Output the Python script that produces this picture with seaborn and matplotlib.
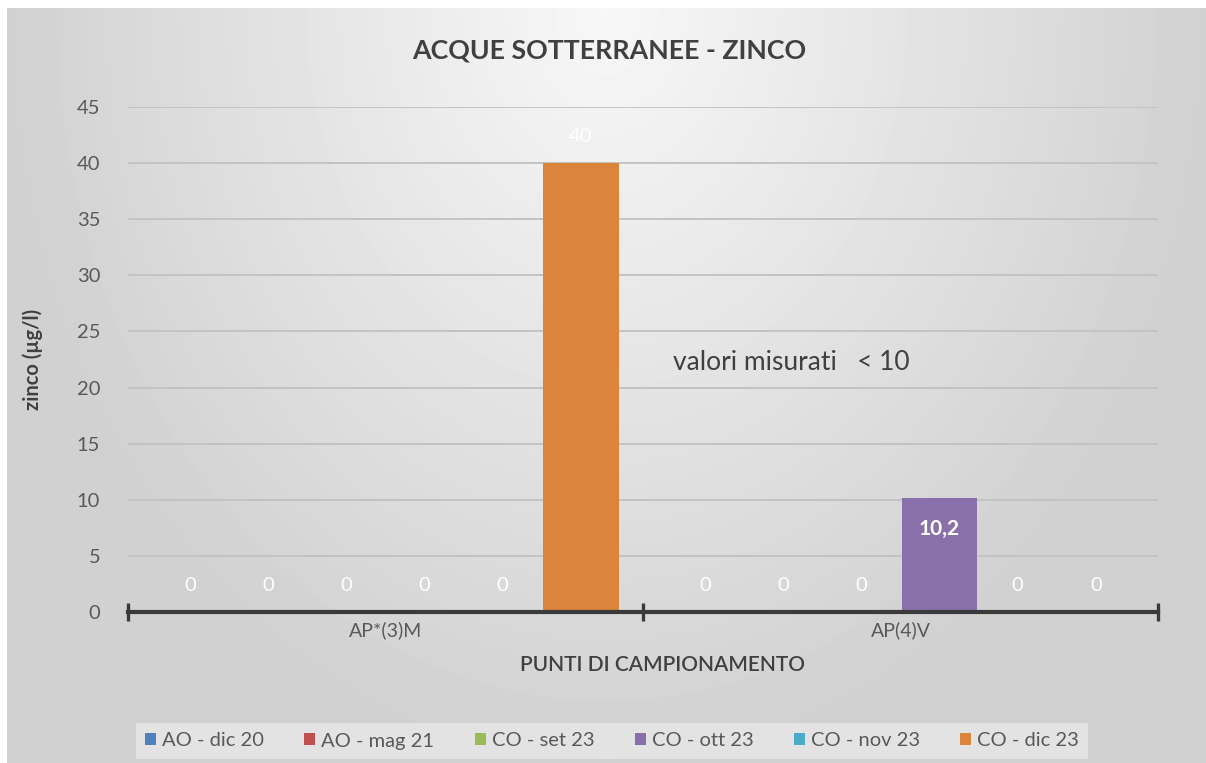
import numpy as np
import pandas as pd
import matplotlib
matplotlib.use("Agg")
import matplotlib.pyplot as plt
from matplotlib.patches import Patch
import seaborn as sns

# ---------------- data ----------------
categories = ["AP*(3)M", "AP(4)V"]
series = ["AO - dic 20", "AO - mag 21", "CO - set 23", "CO - ott 23", "CO - nov 23", "CO - dic 23"]
values_ap3m = [0, 0, 0, 0, 0, 40]
values_ap4v = [0, 0, 0, 10.2, 0, 0]
colors = ["#4f81bd", "#c0504d", "#9bbb59", "#8a70aa", "#4bacc6", "#db843c"]
yticks = [0, 5, 10, 15, 20, 25, 30, 35, 40, 45]
title = "ACQUE SOTTERRANEE - ZINCO"
ylabel = "zinco (µg/l)"
xlabel = "PUNTI DI CAMPIONAMENTO"
note = "valori misurati   < 10"

rows = []
for cat, vals in zip(categories, [values_ap3m, values_ap4v]):
    for s, v in zip(series, vals):
        rows.append({"punto": cat, "campagna": s, "valore": v})
df = pd.DataFrame(rows)

sns.set_theme(style="white")
plt.rcParams["font.family"] = ["Lato", "DejaVu Sans"]

W, H = 1206, 763
fig = plt.figure(figsize=(W / 100, H / 100), dpi=100)
fig.patch.set_facecolor("white")

# background gradient panel
bg = fig.add_axes([7 / W, 0, 1 - 7 / W, 1 - 8 / H], zorder=-10)
yy, xx = np.mgrid[0:1:200j, 0:1:300j]
dx = (xx - 0.5) / 0.5
r = np.sqrt(dx ** 2 + yy ** 2)
c = 0.97 - 0.15 * np.clip(r, 0, 1)
bg.imshow(c, cmap="gray", vmin=0, vmax=1, aspect="auto", interpolation="bilinear")
bg.axis("off")

# main axes
ax = fig.add_axes([128 / W, (H - 612) / H, (1158 - 128) / W, (612 - 107) / H])
ax.patch.set_alpha(0)

sns.barplot(data=df, x="punto", y="valore", hue="campagna", order=categories,
            hue_order=series, palette=colors, width=0.91, gap=0.03,
            saturation=1, ax=ax, legend=False, errorbar=None, linewidth=0)

ax.set_xlim(-0.5, 1.5)
ax.set_ylim(0, 45)
ax.set_yticks(yticks)
ax.yaxis.grid(True, color="#c3c3c3", lw=1.4)
ax.set_axisbelow(True)
for s in ["left", "right", "top"]:
    ax.spines[s].set_visible(False)
ax.spines["bottom"].set_color("#3a3a3a")
ax.spines["bottom"].set_linewidth(3)
ax.spines["bottom"].set_zorder(5)

ax.tick_params(axis="y", length=0, pad=20, labelsize=14.5, labelcolor="#595959")
ax.tick_params(axis="x", which="major", length=0, pad=7, labelsize=14, labelcolor="#595959")
ax.set_xticks([-0.5, 0.5, 1.5], minor=True)
ax.tick_params(axis="x", which="minor", bottom=True, length=13, width=2.4,
               direction="inout", color="#3a3a3a")

ax.set_xlabel(xlabel, fontsize=15, color="#404040", fontweight="semibold")
ax.xaxis.set_label_coords((662 - 128) / 1030, -(665 - 612) / 505)
ax.xaxis.label.set_verticalalignment("center")
ax.set_ylabel(ylabel, fontsize=14.5, color="#404040", fontweight="bold")
ax.yaxis.set_label_coords((33 - 128) / 1030, 0.5)
ax.yaxis.label.set_verticalalignment("center")

# data labels
for cont in ax.containers:
    for bar in cont:
        v = bar.get_height()
        xc = bar.get_x() + bar.get_width() / 2
        txt = f"{v:g}".replace(".", ",")
        if 0 < v < 20:
            ax.text(xc, v - 2.8, txt, ha="center", va="center", color="white",
                    fontsize=15, fontweight="bold")
        else:
            ax.text(xc, v + 2.4, txt, ha="center", va="center", color="white",
                    fontsize=14.5)

ax.text(0.558, 22.2, note, ha="left", va="center", fontsize=19, color="#404040")

fig.text(609 / W, 1 - 50 / H, title, ha="center", va="center", fontsize=19.3,
         fontweight="bold", color="#404040")

handles = [Patch(facecolor=c_, edgecolor="none") for c_ in colors]
leg = fig.legend(handles, series, loc="center", bbox_to_anchor=(612 / W, 1 - 741 / H),
                 ncol=6, frameon=True, fancybox=False, facecolor="#e3e3e3",
                 edgecolor="none", handlelength=0.55, handleheight=0.55,
                 handletextpad=0.3, columnspacing=2.0, fontsize=14.5,
                 borderpad=0.45, framealpha=1)
for t in leg.get_texts():
    t.set_color("#595959")

fig.savefig("out.png", dpi=100)
